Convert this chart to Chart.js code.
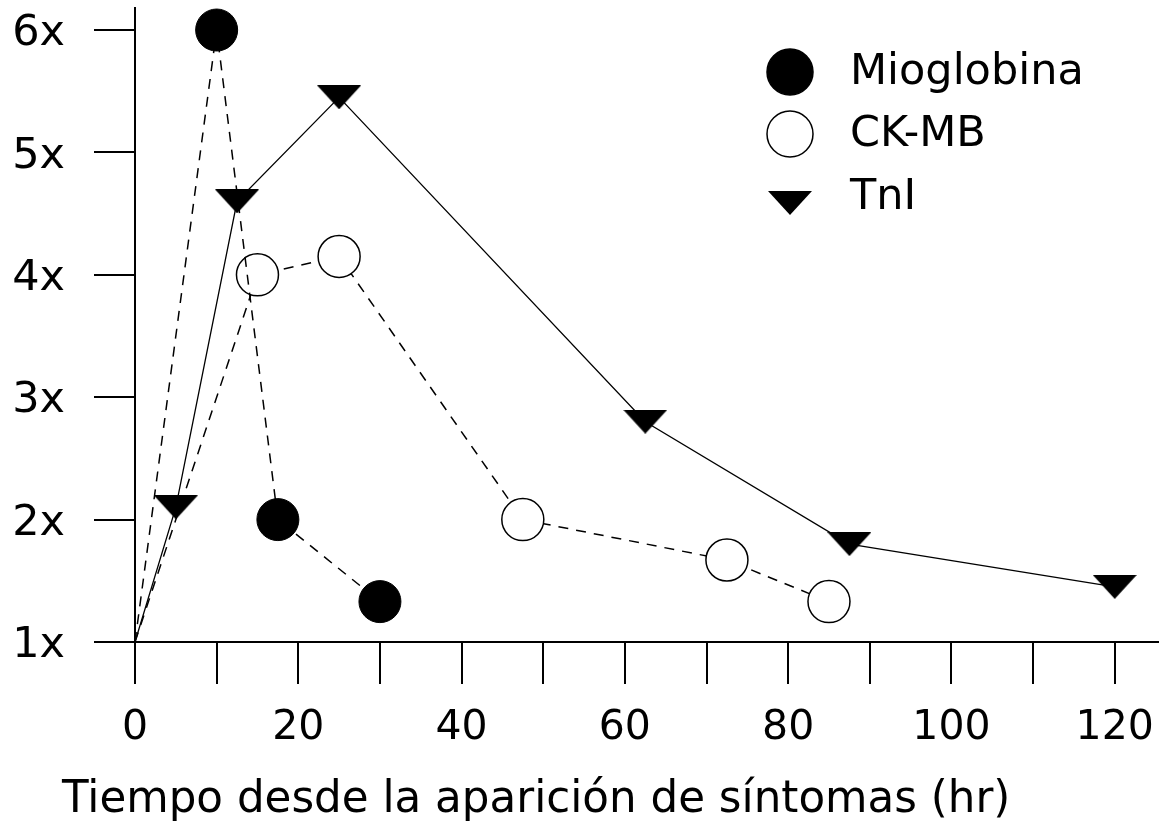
<!DOCTYPE html>
<html>
<head>
<meta charset="utf-8">
<script src="https://cdn.jsdelivr.net/npm/chart.js@4.4.1/dist/chart.umd.min.js"></script>
<style>
  body { margin: 0; background: #fff; }
  #wrap { width: 1161px; height: 835px; position: relative; }
</style>
</head>
<body>
<div id="wrap"><canvas id="markersChart"></canvas></div>
<script>
// data (hours since symptoms, times upper reference limit)
const mioHours = [0, 10, 17.5, 30];
const mioValues = [1, 6, 2, 1.33];
const ckHours = [0, 15, 25, 47.5, 72.5, 85];
const ckValues = [1, 4, 4.15, 2, 1.67, 1.33];
const tniHours = [0, 5, 12.5, 25, 62.5, 87.5, 120];
const tniValues = [1, 2.1, 4.6, 5.45, 2.8, 1.8, 1.45];

const seriesNames = ["Mioglobina", "CK-MB", "TnI"];
const xTicks = [0, 10, 20, 30, 40, 50, 60, 70, 80, 90, 100, 110, 120];
const yTicks = [1, 2, 3, 4, 5, 6];
const xTitle = "Tiempo desde la aparición de síntomas (hr)";

const fontFamily = "'DejaVu Sans', sans-serif";

function toPoints(xs, ys) {
    return xs.map(function (x, i) { return { x: x, y: ys[i] }; });
}

// flat downward triangle marker
function makeTriangle(w, h) {
    var c = document.createElement("canvas");
    c.width = w;
    c.height = h;
    var g = c.getContext("2d");
    g.fillStyle = "#000";
    g.beginPath();
    g.moveTo(0, 0);
    g.lineTo(w, 0);
    g.lineTo(w / 2, h);
    g.closePath();
    g.fill();
    return c;
}
var triMarker = makeTriangle(44, 24);

// no marker on the shared origin point
function noFirst(r) {
    return function (ctx) { return ctx.dataIndex === 0 ? 0 : r; };
}

// keep the plot box where the original has it
function dropPadding(scale) {
    scale.paddingTop = 0;
    scale.paddingBottom = 0;
    scale.paddingLeft = 0;
    scale.paddingRight = 0;
}

////////////////////////////////////////
// legend drawn inside the plot, top right
////////////////////////////////////////
var sideLegend = {
    id: "sideLegend",
    afterDraw: function (chart) {
        var ctx = chart.ctx;
        var rowsY = [72, 134, 197];
        ctx.save();
        ctx.font = "43px " + fontFamily;
        ctx.textBaseline = "middle";
        ctx.fillStyle = "#000";
        chart.data.datasets.forEach(function (ds, i) {
            var y = rowsY[i];
            if (ds.pointStyle === triMarker) {
                Chart.helpers.drawPoint(ctx, { pointStyle: triMarker, radius: 10, rotation: 0 }, 790, y + 6);
            } else {
                ctx.beginPath();
                ctx.arc(790, y, 23, 0, Math.PI * 2);
                ctx.fillStyle = ds.pointBackgroundColor;
                ctx.fill();
                ctx.lineWidth = 1.5;
                ctx.strokeStyle = "#000";
                ctx.stroke();
                ctx.fillStyle = "#000";
            }
            ctx.fillText(ds.label, 850, y + 1);
        });
        ctx.restore();
    }
};

////////////////////////////////////////
// x axis caption, left of centre like the original
////////////////////////////////////////
var bottomCaption = {
    id: "bottomCaption",
    afterDraw: function (chart) {
        var ctx = chart.ctx;
        ctx.save();
        ctx.font = "43.6px " + fontFamily;
        ctx.textBaseline = "middle";
        ctx.fillStyle = "#000";
        ctx.fillText(xTitle, 62, 801);
        ctx.restore();
    }
};

var myChart = new Chart(document.getElementById("markersChart"), {
    type: "line",
    data: {
        datasets: [{
            label: seriesNames[0],
            data: toPoints(mioHours, mioValues),
            borderColor: "#000",
            borderWidth: 1.5,
            borderDash: [10, 8],
            pointStyle: "circle",
            pointRadius: noFirst(21),
            pointBackgroundColor: "#000",
            pointBorderColor: "#000",
            pointBorderWidth: 1,
            tension: 0
        }, {
            label: seriesNames[1],
            data: toPoints(ckHours, ckValues),
            borderColor: "#000",
            borderWidth: 1.5,
            borderDash: [10, 8],
            pointStyle: "circle",
            pointRadius: noFirst(21),
            pointBackgroundColor: "#fff",
            pointBorderColor: "#000",
            pointBorderWidth: 1.5,
            tension: 0
        }, {
            label: seriesNames[2],
            data: toPoints(tniHours, tniValues),
            borderColor: "#000",
            borderWidth: 1.3,
            pointStyle: triMarker,
            pointRadius: noFirst(12),
            tension: 0
        }]
    },
    options: {
        responsive: true,
        maintainAspectRatio: false,
        devicePixelRatio: 1,
        animation: false,
        clip: false,
        layout: { autoPadding: false, padding: { top: 8, right: 3, left: 0, bottom: 0 } },
        plugins: {
            legend: { display: false },
            tooltip: { enabled: false }
        },
        scales: {
            x: {
                type: "linear",
                min: 0,
                max: 125.3,
                afterBuildTicks: function (axis) {
                    axis.ticks = xTicks.map(function (v) { return { value: v }; });
                },
                afterFit: function (scale) {
                    scale.height = 193;
                    dropPadding(scale);
                },
                ticks: {
                    autoSkip: false,
                    maxRotation: 0,
                    padding: 20,
                    color: "#000",
                    font: { family: fontFamily, size: 41 },
                    callback: function (v) { return v % 20 === 0 ? v : ""; }
                },
                grid: {
                    drawOnChartArea: false,
                    drawTicks: true,
                    tickLength: 42,
                    color: "#000",
                    lineWidth: 2
                },
                border: { display: true, color: "#000", width: 2 }
            },
            y: {
                type: "linear",
                min: 1,
                max: 6.18,
                afterBuildTicks: function (axis) {
                    axis.ticks = yTicks.map(function (v) { return { value: v }; });
                },
                afterFit: function (scale) {
                    scale.width = 135;
                    dropPadding(scale);
                },
                ticks: {
                    padding: 29,
                    labelOffset: 4,
                    color: "#000",
                    font: { family: fontFamily, size: 43 },
                    callback: function (v) { return v + "x"; }
                },
                grid: {
                    drawOnChartArea: false,
                    drawTicks: true,
                    tickLength: 41,
                    color: "#000",
                    lineWidth: 2
                },
                border: { display: true, color: "#000", width: 2 }
            }
        }
    },
    plugins: [sideLegend, bottomCaption]
});
</script>
</body>
</html>
